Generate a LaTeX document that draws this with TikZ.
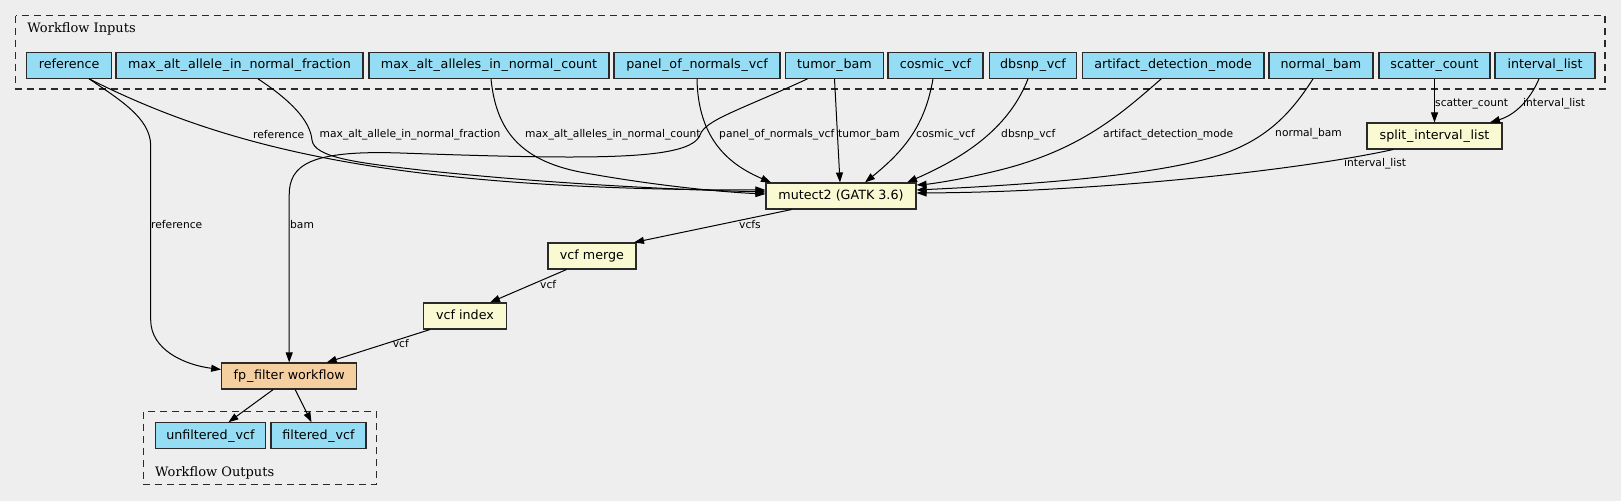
\documentclass[tikz,border=0pt]{standalone}
\usepackage{fontspec}
\setmainfont{DejaVu Sans}
\newfontfamily\clusterfont{DejaVu Serif}
\usetikzlibrary{arrows.meta,calc}
\definecolor{bgc}{HTML}{EEEEEE}
\definecolor{inc}{HTML}{94DDF4}
\definecolor{toolc}{HTML}{FAFAD2}
\definecolor{wfc}{HTML}{F5CFA0}
\definecolor{bordc}{HTML}{2A2A2A}
\newcommand{\us}{\kern0.8bp\_\kern0.8bp}
\begin{document}
\begin{tikzpicture}[x=1bp,y=-1bp,
  box/.style={draw=bordc, line width=1.1bp, minimum height=26bp, inner sep=0pt,
    font=\fontsize{12.7bp}{15bp}\selectfont, text height=9.5bp, text depth=2.5bp},
  inbox/.style={box, fill=inc},
  toolbox/.style={box, fill=toolc},
  wfbox/.style={box, fill=wfc},
  cluster/.style={draw=bordc, dash pattern=on 7bp off 5bp, line width=1.1bp},
  clab/.style={font=\clusterfont\fontsize{13bp}{15bp}\selectfont, anchor=base west, inner sep=0pt},
  elab/.style={font=\fontsize{10.7bp}{12bp}\selectfont, anchor=west, inner sep=0pt, text=black},
  edge/.style={draw=black, line width=1bp, -{Triangle[length=10bp,width=7bp]}},
]
\fill[bgc] (0,0) rectangle (1621,501);
\useasboundingbox (0,0) rectangle (1621,501);

% clusters
\draw[cluster] (15.8,15.7) rectangle (1605,89);
\node[clab] (inlab) at (27.3,32.3) {Workflow Inputs};
\draw[cluster] (143.3,411.7) rectangle (376.7,484.3);
\node[clab] (outlab) at (155,476) {Workflow Outputs};

% inputs
\node[inbox, minimum width=85bp] (reference) at (69.2,65.3) {reference};
\node[inbox, minimum width=247bp] (maxfrac) at (239.5,65.3) {max\us alt\us allele\us in\us normal\us fraction};
\node[inbox, minimum width=240bp] (maxcount) at (489,65.3) {max\us alt\us alleles\us in\us normal\us count};
\node[inbox, minimum width=166bp] (pon) at (697,65.3) {panel\us of\us normals\us vcf};
\node[inbox, minimum width=98bp] (tumor) at (834.5,65.3) {tumor\us bam};
\node[inbox, minimum width=95bp] (cosmic) at (935.5,65.3) {cosmic\us vcf};
\node[inbox, minimum width=87bp] (dbsnp) at (1033,65.3) {dbsnp\us vcf};
\node[inbox, minimum width=181.6bp] (artifact) at (1173.2,65.3) {artifact\us detection\us mode};
\node[inbox, minimum width=104bp] (normal) at (1321,65.3) {normal\us bam};
\node[inbox, minimum width=111bp] (scatter) at (1434.5,65.3) {scatter\us count};
\node[inbox, minimum width=100bp] (ilist) at (1545,65.3) {interval\us list};

% tools
\node[toolbox, minimum width=150bp] (mutect) at (841,196) {mutect2 (GATK 3.6)};
\node[toolbox, minimum width=135bp] (split) at (1434.5,136) {split\us interval\us list};
\node[toolbox, minimum width=88bp] (merge) at (592,256) {vcf merge};
\node[toolbox, minimum width=83.5bp] (index) at (465,316) {vcf index};
\node[wfbox, minimum width=135bp] (fp) at (289.2,376) {fp\us filter workflow};

% outputs
\node[inbox, minimum width=110.7bp] (unf) at (210.4,435.8) {unfiltered\us vcf};
\node[inbox, minimum width=95bp] (filt) at (318.5,435.8) {filtered\us vcf};

% edges
\draw[edge] ([xshift=20bp]reference.south) .. controls (230,150) and (400,190) .. ([yshift=6bp]mutect.west);
\draw[edge] ([xshift=20bp]reference.south) .. controls (120,100) and (150,118) .. (150.7,145)
  -- (150.7,320) .. controls (150.7,350) and (185,365) .. ([yshift=6.5bp]fp.west);
\draw[edge] ([xshift=18.5bp]maxfrac.south) .. controls (290,100) and (310,120) .. (312,140)
  .. controls (314,158) and (360,163) .. (420,170) .. controls (560,185) and (690,190) .. ([yshift=4bp]mutect.west);
\draw[edge] ([xshift=2bp]maxcount.south) .. controls (496,130) and (520,160) .. (580,172)
  .. controls (650,185) and (720,192) .. ([yshift=2bp]mutect.west);
\draw[edge] (pon.south) .. controls (698,140) and (730,165) .. ([xshift=-70bp]mutect.north);
\draw[edge] (tumor.south) -- ([xshift=-1bp]mutect.north);
\draw[edge] ([xshift=-27bp]tumor.south) .. controls (740,110) and (705,120) .. (700,135)
  .. controls (690,160) and (600,160) .. (400,153) .. controls (310,150) and (289.2,165) .. (289.2,195)
  -- (fp.north);
\draw[edge] ([xshift=-2.5bp]cosmic.south) .. controls (925,125) and (905,150) .. ([xshift=24bp]mutect.north);
\draw[edge] ([xshift=-5bp]dbsnp.south) .. controls (1010,125) and (970,155) .. ([xshift=66bp]mutect.north);
\draw[edge] ([xshift=-12bp]artifact.south) .. controls (1120,115) and (1080,150) .. (1000,170)
  .. controls (960,180) and (930,184) .. ([yshift=11bp]mutect.east);
\draw[edge] ([xshift=-8bp]normal.south) .. controls (1290,115) and (1265,140) .. (1220,155)
  .. controls (1150,178) and (1000,186) .. ([yshift=6bp]mutect.east);
\draw[edge] (scatter.south) -- (split.north);
\draw[edge] ([xshift=-6bp]ilist.south) .. controls (1530,100) and (1515,115) .. ([xshift=55.5bp]split.north);
\draw[edge] ([xshift=-41.5bp]split.south) .. controls (1300,170) and (1100,192) .. ([yshift=3bp]mutect.east);
\draw[edge] ([xshift=-49.5bp]mutect.south) -- ([xshift=42bp]merge.north);
\draw[edge] ([xshift=-25.5bp]merge.south) -- ([xshift=25bp]index.north);
\draw[edge] ([xshift=-35bp]index.south) -- ([xshift=37.5bp]fp.north);
\draw[edge] ([xshift=-16bp]fp.south) -- ([xshift=18bp]unf.north);
\draw[edge] ([xshift=6bp]fp.south) -- ([xshift=-7bp]filt.north);

% edge labels
\node[elab] (l1) at (253,135) {reference};
\node[elab] (l2) at (319.5,135) {max\_alt\_allele\_in\_normal\_fraction};
\node[elab] (l3) at (525,135) {max\_alt\_alleles\_in\_normal\_count};
\node[elab] (l4) at (719,135) {panel\_of\_normals\_vcf};
\node[elab] (l5) at (838,135) {tumor\_bam};
\node[elab] (l6) at (916,135) {cosmic\_vcf};
\node[elab] (l7) at (1001,135) {dbsnp\_vcf};
\node[elab] (l8) at (1103,135) {artifact\_detection\_mode};
\node[elab] (l9) at (1275,134) {normal\_bam};
\node[elab] (l10) at (1435,104) {scatter\_count};
\node[elab] (l11) at (1523,104) {interval\_list};
\node[elab] (l12) at (1344,164) {interval\_list};
\node[elab] (l13) at (151,225) {reference};
\node[elab] (l14) at (290,225) {bam};
\node[elab] (l15) at (739,225) {vcfs};
\node[elab] (l16) at (540,285) {vcf};
\node[elab] (l17) at (392.7,344) {vcf};
\end{tikzpicture}
\end{document}
